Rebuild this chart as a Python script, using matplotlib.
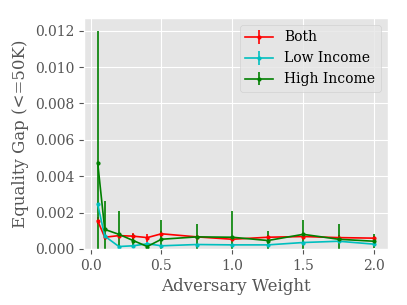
import numpy as np
import matplotlib
matplotlib.use('Agg')
import matplotlib.pyplot as plt

weights = [0.05, 0.1, 0.2, 0.3, 0.4, 0.5, 0.75, 1.0, 1.25, 1.5, 1.75, 2.0]

both_mean = [0.00155, 0.00064, 0.00073, 0.00070, 0.00062, 0.00083, 0.00066, 0.00053, 0.00064, 0.00068, 0.00062, 0.00059]
both_err = [0.00020, 0.00015, 0.00015, 0.00020, 0.00022, 0.00015, 0.00012, 0.00012, 0.00012, 0.00012, 0.00012, 0.00012]

low_mean = [0.00246, 0.00070, 0.00013, 0.00017, 0.00028, 0.00017, 0.00024, 0.00022, 0.00022, 0.00035, 0.00042, 0.00026]
low_err = [0.00010, 0.00008, 0.00005, 0.00005, 0.00010, 0.00005, 0.00005, 0.00005, 0.00005, 0.00006, 0.00006, 0.00006]

high_mean = [0.00475, 0.00107, 0.00080, 0.00046, 0.00013, 0.00053, 0.00066, 0.00064, 0.00046, 0.00080, 0.00053, 0.00042]
high_err = [0.00725, 0.00155, 0.00127, 0.00034, 0.00010, 0.00104, 0.00069, 0.00146, 0.00054, 0.00080, 0.00082, 0.00038]

plt.style.use('ggplot')
plt.rcParams['font.family'] = 'serif'

fig = plt.figure(figsize=(4.07, 3.05), dpi=100)
ax = fig.add_axes([0.206, 0.184, 0.747, 0.757])

style = dict(marker='.', markersize=4, linewidth=1.2, elinewidth=1.2)
ax.errorbar(weights, both_mean, yerr=both_err, color='r', label='Both', **style)
ax.errorbar(weights, low_mean, yerr=low_err, color='c', label='Low Income', **style)
ax.errorbar(weights, high_mean, yerr=high_err, color='g', label='High Income', **style)

ax.set_ylim(0, 0.0127)
ax.set_xlabel('Adversary Weight')
ax.set_ylabel('Equality Gap (<=50K)')
ax.legend(loc='upper right')

fig.savefig('out.png', dpi=100)
